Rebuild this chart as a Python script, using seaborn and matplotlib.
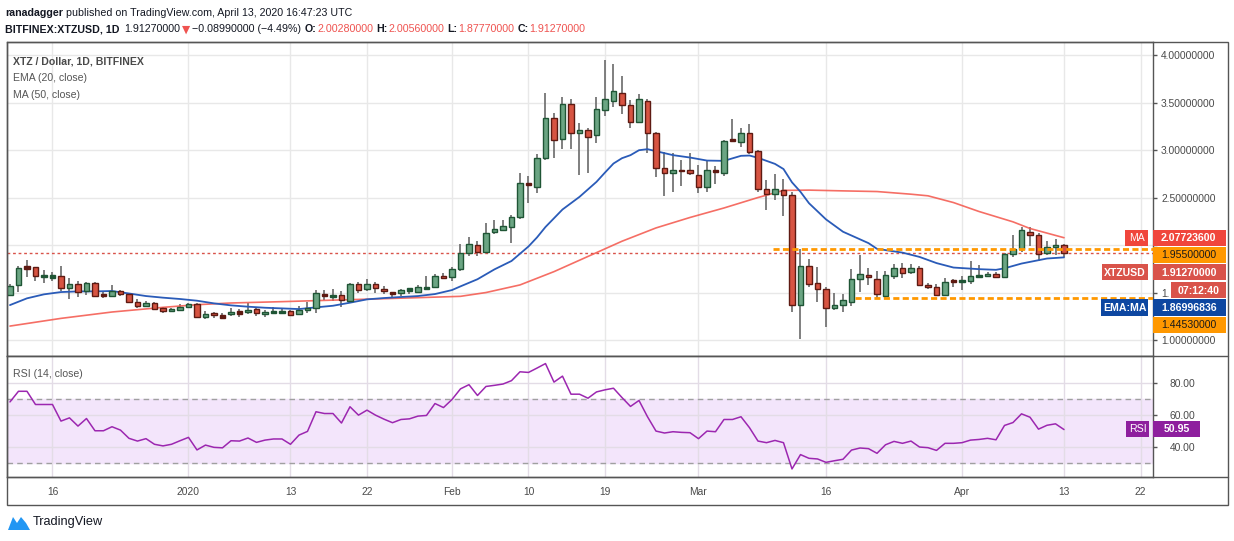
import numpy as np
import pandas as pd
import matplotlib
matplotlib.use("Agg")
import matplotlib.pyplot as plt
import matplotlib.dates as mdates
from matplotlib import font_manager
from matplotlib.patches import Rectangle, Polygon
from matplotlib.lines import Line2D
import seaborn as sns

# daily candles, Dec 11 2019 .. Apr 13 2020
dates = pd.date_range("2019-12-11", "2020-04-13", freq="D")

opens = [1.474, 1.579, 1.768, 1.765, 1.670, 1.669, 1.670, 1.544, 1.586, 1.512,
         1.596, 1.479, 1.467, 1.516, 1.481, 1.396, 1.361, 1.386, 1.333, 1.302,
         1.312, 1.344, 1.375, 1.239, 1.281, 1.251, 1.270, 1.293, 1.291, 1.323,
         1.270, 1.296, 1.296, 1.302, 1.270, 1.312, 1.333, 1.479, 1.461, 1.470,
         1.407, 1.586, 1.533, 1.586, 1.537, 1.497, 1.491, 1.523, 1.509, 1.549,
         1.554, 1.670, 1.660, 1.744, 1.919, 2.004, 1.926, 2.140, 2.158, 2.193,
         2.298, 2.645, 2.614, 2.911, 3.342, 3.118, 3.482, 3.184, 3.216, 3.153,
         3.426, 3.521, 3.605, 3.479, 3.300, 3.521, 3.184, 2.809, 2.753, 2.795,
         2.795, 2.742, 2.616, 2.782, 2.760, 3.110, 3.086, 3.184, 2.988, 2.595,
         2.539, 2.584, 2.525, 1.370, 1.784, 1.605, 1.542, 1.342, 1.374, 1.402,
         1.647, 1.689, 1.647, 1.465, 1.675, 1.763, 1.721, 1.763, 1.584, 1.563,
         1.479, 1.625, 1.621, 1.626, 1.673, 1.675, 1.700, 1.668, 1.910, 1.960,
         2.142, 2.110, 1.921, 1.984, 2.0028]
highs = [1.590, 1.779, 1.842, 1.772, 1.737, 1.719, 1.779, 1.649, 1.621, 1.614,
         1.611, 1.516, 1.579, 1.526, 1.488, 1.432, 1.407, 1.404, 1.344, 1.333,
         1.375, 1.393, 1.386, 1.302, 1.291, 1.281, 1.333, 1.323, 1.393, 1.351,
         1.319, 1.344, 1.330, 1.316, 1.358, 1.403, 1.526, 1.526, 1.537, 1.516,
         1.605, 1.614, 1.642, 1.614, 1.568, 1.509, 1.537, 1.551, 1.579, 1.674,
         1.695, 1.702, 1.765, 2.007, 2.088, 2.039, 2.228, 2.260, 2.263, 2.312,
         2.760, 2.726, 2.956, 3.600, 3.391, 3.560, 3.542, 3.286, 3.233, 3.563,
         3.946, 3.910, 3.777, 3.525, 3.588, 3.542, 3.190, 2.980, 2.970, 2.900,
         2.970, 2.846, 2.888, 2.828, 3.110, 3.330, 3.228, 3.270, 3.000, 2.682,
         2.746, 2.690, 2.553, 1.963, 1.851, 1.774, 1.560, 1.490, 1.482, 1.746,
         1.890, 1.763, 1.725, 1.725, 1.798, 1.816, 1.798, 1.781, 1.605, 1.588,
         1.658, 1.647, 1.675, 1.833, 1.788, 1.721, 1.718, 1.916, 2.104, 2.191,
         2.191, 2.125, 2.044, 2.068, 2.0056]
lows = [1.463, 1.509, 1.667, 1.625, 1.596, 1.621, 1.519, 1.435, 1.456, 1.477,
        1.453, 1.446, 1.456, 1.467, 1.386, 1.333, 1.351, 1.312, 1.284, 1.295,
        1.302, 1.337, 1.228, 1.225, 1.228, 1.228, 1.256, 1.246, 1.274, 1.256,
        1.246, 1.281, 1.281, 1.253, 1.260, 1.288, 1.288, 1.421, 1.411, 1.351,
        1.386, 1.491, 1.520, 1.491, 1.488, 1.449, 1.463, 1.481, 1.509, 1.544,
        1.544, 1.639, 1.625, 1.730, 1.884, 1.884, 1.919, 2.112, 2.150, 2.020,
        2.277, 2.446, 2.549, 2.900, 2.918, 3.012, 3.012, 2.742, 2.761, 3.075,
        3.358, 3.453, 3.374, 3.233, 3.290, 2.970, 2.718, 2.518, 2.560, 2.621,
        2.742, 2.546, 2.560, 2.642, 2.725, 3.089, 3.033, 2.963, 2.560, 2.367,
        2.472, 2.307, 1.296, 1.016, 1.553, 1.402, 1.142, 1.314, 1.290, 1.360,
        1.507, 1.577, 1.447, 1.444, 1.640, 1.650, 1.700, 1.574, 1.535, 1.472,
        1.465, 1.563, 1.528, 1.591, 1.661, 1.661, 1.661, 1.660, 1.879, 1.928,
        1.991, 1.830, 1.896, 1.900, 1.8777]
closes = [1.572, 1.754, 1.762, 1.670, 1.672, 1.672, 1.544, 1.586, 1.502, 1.596,
          1.467, 1.475, 1.512, 1.484, 1.400, 1.361, 1.386, 1.323, 1.305, 1.323,
          1.344, 1.375, 1.239, 1.277, 1.260, 1.247, 1.298, 1.289, 1.312, 1.281,
          1.291, 1.300, 1.300, 1.260, 1.316, 1.333, 1.491, 1.475, 1.465, 1.418,
          1.586, 1.523, 1.586, 1.544, 1.512, 1.493, 1.523, 1.537, 1.554, 1.553,
          1.670, 1.649, 1.744, 1.919, 2.014, 1.926, 2.130, 2.165, 2.204, 2.298,
          2.649, 2.638, 2.911, 3.332, 3.110, 3.482, 3.184, 3.216, 3.142, 3.437,
          3.532, 3.616, 3.479, 3.300, 3.542, 3.184, 2.809, 2.753, 2.795, 2.774,
          2.763, 2.616, 2.795, 2.776, 3.100, 3.104, 3.174, 2.980, 2.595, 2.539,
          2.595, 2.528, 1.370, 1.784, 1.595, 1.542, 1.342, 1.374, 1.419, 1.640,
          1.693, 1.668, 1.489, 1.689, 1.763, 1.707, 1.763, 1.581, 1.563, 1.479,
          1.616, 1.621, 1.625, 1.679, 1.677, 1.700, 1.668, 1.910, 1.960, 2.153,
          2.110, 1.910, 1.980, 2.005, 1.9127]

# EMA(20) and MA(50) read at sample days (day index from Dec 11)
ema_days = [0, 2, 4, 6, 8, 10, 12, 14, 16, 18, 20, 22, 24, 26, 28, 30, 32, 34,
            36, 38, 40, 42, 44, 46, 48, 50, 52, 53, 55, 57, 59, 61, 62, 63, 65,
            67, 69, 70, 71, 72, 73, 74, 75, 76, 78, 80, 82, 84, 86, 87, 88, 90,
            91, 92, 93, 94, 96, 98, 101, 102, 105, 107, 109, 111, 114, 116, 117,
            119, 122, 124]
ema_vals = [1.368, 1.439, 1.481, 1.505, 1.512, 1.512, 1.516, 1.490, 1.463, 1.446,
            1.432, 1.414, 1.386, 1.365, 1.351, 1.340, 1.333, 1.326, 1.344, 1.361,
            1.393, 1.428, 1.442, 1.453, 1.463, 1.484, 1.526, 1.565, 1.640, 1.744,
            1.832, 1.985, 2.080, 2.190, 2.374, 2.507, 2.665, 2.763, 2.858, 2.914,
            2.946, 2.998, 3.009, 2.988, 2.946, 2.921, 2.889, 2.886, 2.939, 2.942,
            2.918, 2.854, 2.800, 2.660, 2.560, 2.440, 2.270, 2.140, 2.020, 1.960,
            1.920, 1.875, 1.810, 1.763, 1.746, 1.739, 1.755, 1.805, 1.858, 1.870]
ma_days = [0, 6, 12, 18, 22, 26, 32, 38, 42, 48, 53, 56, 60, 64, 68, 72, 76, 80,
           84, 88, 91, 94, 98, 102, 106, 108, 111, 114, 118, 120, 124]
ma_vals = [1.147, 1.228, 1.295, 1.344, 1.372, 1.390, 1.404, 1.420, 1.430, 1.446,
           1.460, 1.500, 1.580, 1.720, 1.880, 2.040, 2.180, 2.290, 2.390, 2.500,
           2.575, 2.578, 2.570, 2.563, 2.535, 2.518, 2.447, 2.353, 2.244, 2.174,
           2.077]

rsi = [68.1, 74.7, 74.7, 66.5, 66.5, 66.5, 56.2, 58.2, 53.1, 57.8,
       50.2, 50.2, 52.7, 50.6, 45.5, 43.8, 45.3, 41.8, 40.8, 41.8,
       44.0, 46.1, 38.3, 41.3, 39.9, 39.6, 44.0, 43.8, 45.7, 43.0,
       44.4, 45.1, 45.1, 41.8, 47.5, 49.8, 62.0, 60.9, 60.9, 55.0,
       65.1, 59.9, 63.0, 59.9, 57.4, 55.2, 57.2, 57.6, 59.3, 59.7,
       67.1, 64.6, 69.6, 76.2, 78.8, 72.1, 77.7, 78.4, 79.2, 81.3,
       86.8, 86.4, 89.1, 91.9, 80.4, 84.1, 72.9, 72.9, 70.4, 74.3,
       75.6, 76.6, 70.8, 65.3, 69.0, 58.9, 50.0, 48.8, 49.6, 49.2,
       49.0, 45.3, 50.0, 49.6, 57.2, 57.2, 58.9, 52.1, 43.8, 42.8,
       44.2, 42.8, 26.5, 35.4, 33.1, 32.7, 30.6, 31.6, 32.5, 38.2,
       39.5, 39.1, 36.2, 41.5, 43.6, 42.4, 43.8, 40.1, 39.7, 38.0,
       42.4, 42.4, 42.8, 44.4, 44.8, 45.5, 44.6, 53.5, 55.3, 60.7,
       58.6, 51.2, 53.6, 54.5, 50.95]

tick_dates = ["2019-12-16", "2020-01-01", "2020-01-13", "2020-01-22", "2020-02-01",
              "2020-02-10", "2020-02-19", "2020-03-01", "2020-03-16", "2020-04-01",
              "2020-04-13", "2020-04-22"]
tick_labels = ["16", "2020", "13", "22", "Feb", "10", "19", "Mar", "16", "Apr", "13", "22"]

price_ticks = [1.0, 1.5, 2.0, 2.5, 3.0, 3.5, 4.0]
# 2.0 sits fully under the orange box, 1.5 shows only as "1." beside the clock box
price_tick_labels = ["1.00000000", "1.", "", "2.50000000", "3.00000000",
                     "3.50000000", "4.00000000"]

resistance = 1.955
support = 1.4453
last_price = 1.9127
ma_last = 2.077236
ema_last = 1.86996836
rsi_last = 50.95

# ---- style ----
sns.set_style("white")
avail = {f.name for f in font_manager.fontManager.ttflist}
if "Liberation Sans Narrow" in avail:
    FONT, FS = "Liberation Sans Narrow", 9.3
else:
    FONT, FS = "Liberation Sans", 7.6
plt.rcParams["font.family"] = [FONT, "DejaVu Sans"]

W, H = 1234, 541
fig = plt.figure(figsize=(W / 100, H / 100), dpi=100)
renderer = fig.canvas.get_renderer()


def fx(x):
    return x / W


def fy(y):
    return 1 - y / H


ax = fig.add_axes([fx(7), fy(356), fx(1153) - fx(7), fy(42) - fy(356)])
ax_rsi = fig.add_axes([fx(7), fy(477), fx(1153) - fx(7), fy(356) - fy(477)])

x = mdates.date2num(dates)
x0 = x[0]
xlim = (x0 - 0.35, x0 + 134.47)
ticks_x = mdates.date2num(pd.to_datetime(tick_dates))

GREEN, GREEN_EDGE = "#6ba583", "#1f5535"
RED, RED_EDGE = "#d75442", "#5e1a12"

# candles
o = np.array(opens)
c = np.array(closes)
up = c >= o
doji = np.abs(c - o) < 0.02
bottoms = np.where(doji, (o + c) / 2 - 0.0125, np.minimum(o, c))
heights = np.where(doji, 0.025, np.abs(c - o))
edges = np.where(up, GREEN_EDGE, RED_EDGE)
fills = np.where(doji, edges, np.where(up, GREEN, RED))

ax.vlines(x, lows, highs, color="#6a6a6a", lw=1.2, zorder=2)
sns.lineplot(x=x[ma_days], y=ma_vals, ax=ax, color="#f4554a", linewidth=1.2, alpha=0.85, zorder=2.5)
sns.lineplot(x=x[ema_days], y=ema_vals, ax=ax, color="#2a5bb8", linewidth=1.3, zorder=2.5)
ax.bar(x, heights, bottom=bottoms, width=0.7, color=fills, edgecolor=edges, linewidth=1, zorder=3)

ax.axhline(last_price, color="#d9534a", ls=(0, (2, 2)), lw=1, zorder=2)
ax.hlines(resistance, x0 + 89.8, xlim[1], colors="#ff9800", linestyles=(0, (2.2, 1.2)), lw=2, zorder=4)
ax.hlines(support, x0 + 99.4, xlim[1], colors="#ff9800", linestyles=(0, (2.2, 1.2)), lw=2, zorder=4)

ax.set_xlim(*xlim)
ax.set_ylim(0.832, 4.137)
ax.set_yticks(price_ticks)
ax.set_yticklabels(price_tick_labels)
ax.yaxis.tick_right()
ax.set_xticks(ticks_x)
ax.tick_params(axis="x", length=0, labelbottom=False)
ax.tick_params(axis="y", length=2.9, width=1, color="#555555", pad=2.9,
               labelsize=FS - 0.2, labelcolor="#4a4a4a")
ax.grid(True, color="#e8e8e8", lw=1)
ax.set_axisbelow(True)
ax.set_xlabel("")
ax.set_ylabel("")

# RSI pane
ax_rsi.axhspan(30, 70, color="#f3e5fb", zorder=0)
ax_rsi.axhline(70, color="#a0a0a0", ls=(0, (4, 3)), lw=1, zorder=1)
ax_rsi.axhline(30, color="#a0a0a0", ls=(0, (4, 3)), lw=1, zorder=1)
sns.lineplot(x=x, y=rsi, ax=ax_rsi, color="#9c27b0", linewidth=1.1, zorder=3)
ax_rsi.set_xlim(*xlim)
ax_rsi.set_ylim(21.5, 96.6)
ax_rsi.set_yticks([40, 60, 80])
ax_rsi.set_yticklabels(["40.00", "60.00", "80.00"])
ax_rsi.yaxis.tick_right()
ax_rsi.set_xticks(ticks_x)
ax_rsi.set_xticklabels(tick_labels)
ax_rsi.tick_params(axis="x", length=2.9, width=1, color="#555555", pad=4,
                   labelsize=FS - 0.2, labelcolor="#4a4a4a")
ax_rsi.tick_params(axis="y", length=2.9, width=1, color="#555555", pad=9,
                   labelsize=FS - 0.2, labelcolor="#4a4a4a")
ax_rsi.grid(True, color="#e3dce6", lw=1, zorder=0.5)
ax_rsi.set_axisbelow(True)
ax_rsi.set_xlabel("")
ax_rsi.set_ylabel("")

for a in (ax, ax_rsi):
    for s in a.spines.values():
        s.set_color("#555555")
        s.set_linewidth(1)

# outer frame and pane separators
fig.add_artist(Rectangle((fx(7), fy(505)), fx(1228) - fx(7), fy(42) - fy(505),
                         transform=fig.transFigure, fill=False, edgecolor="#555555", lw=1, zorder=1))
for yy in (356, 477):
    fig.add_artist(Line2D([fx(7), fx(1228)], [fy(yy), fy(yy)], transform=fig.transFigure,
                          color="#555555", lw=1, zorder=1))


def ftext(xp, yp, s, **kw):
    kw.setdefault("va", "center")
    kw.setdefault("fontsize", FS)
    return fig.text(fx(xp), fy(yp), s, **kw)


def text_run(xp, yp, pieces, size):
    # lay pieces out left to right, each after the previous one's right edge
    for s, col, wt, gap in pieces:
        kw = {}
        if s == "\u25bc":
            kw["family"] = ["DejaVu Sans"]
        t = ftext(xp, yp, s, color=col, fontweight=wt, fontsize=size, **kw)
        xp = t.get_window_extent(renderer).x1 + gap


def box(x1, y1, x2, y2, color):
    fig.add_artist(Rectangle((fx(x1), fy(y2)), fx(x2) - fx(x1), fy(y1) - fy(y2),
                             transform=fig.transFigure, facecolor=color,
                             edgecolor="none", zorder=5))


# right-side price labels
box(1125, 230, 1148, 246, "#f0463c")
box(1153, 230, 1226, 246, "#f0463c")
ftext(1136.5, 238.5, "MA", ha="center", color="white", zorder=6)
ftext(1161, 238.5, f"{ma_last:.8f}", color="white", fontweight="bold", zorder=6)

box(1153, 247, 1226, 263, "#ff9800")
ftext(1161, 255.5, f"{resistance:.8f}", color="#1a1a1a", zorder=6)

box(1102, 264, 1148, 280, "#d9534a")
box(1153, 264, 1226, 280, "#d9534a")
ftext(1125, 272.5, "XTZUSD", ha="center", color="white", fontweight="bold", zorder=6)
ftext(1161, 272.5, f"{last_price:.8f}", color="white", fontweight="bold", zorder=6)

box(1171, 282, 1226, 298, "#d9534a")
ftext(1198.5, 290.5, "07:12:40", ha="center", color="white", fontweight="bold", zorder=6)

box(1101, 299, 1148, 316, "#0d47a1")
box(1153, 299, 1226, 316, "#0d47a1")
ftext(1124.5, 308, "EMA:MA", ha="center", color="white", fontweight="bold", zorder=6)
ftext(1161, 308, f"{ema_last:.8f}", color="white", fontweight="bold", zorder=6)

box(1153, 317, 1226, 333, "#ff9800")
ftext(1161, 325.5, f"{support:.8f}", color="#1a1a1a", zorder=6)

box(1126, 421, 1149, 437, "#8e1f9e")
box(1153, 421, 1200, 437, "#8e1f9e")
ftext(1137.5, 429.5, "RSI", ha="center", color="white", zorder=6)
ftext(1176.5, 429.5, f"{rsi_last:.2f}", ha="center", color="white", fontweight="bold", zorder=6)

# pane legends
ftext(13, 61, "XTZ / Dollar, 1D, BITFINEX", color="#4a4a4a", fontweight="bold")
ftext(13, 78, "EMA (20, close)", color="#555555")
ftext(13, 95, "MA (50, close)", color="#555555")
ftext(13, 374, "RSI (14, close)", color="#555555")

# header
HS = (FS + 0.8) * 0.91
INK = "#131722"
LOSS = "#ef5350"
text_run(5, 13, [("ranadagger", INK, "bold", 3),
                 ("published on TradingView.com, April 13, 2020 16:47:23 UTC", INK, "normal", 0)], HS)
text_run(5, 29.5, [("BITFINEX:XTZUSD, 1D", INK, "bold", 5),
                   ("1.91270000", INK, "normal", 1),
                   ("\u25bc", LOSS, "normal", 2),
                   ("\u22120.08990000 (\u22124.49%)", INK, "normal", 4),
                   ("O:", INK, "bold", 1), ("2.00280000", LOSS, "normal", 3),
                   ("H:", INK, "bold", 1), ("2.00560000", LOSS, "normal", 3),
                   ("L:", INK, "bold", 1), ("1.87770000", LOSS, "normal", 3),
                   ("C:", INK, "bold", 1), ("1.91270000", LOSS, "normal", 0)], HS)

# footer logo
logo = [(8, 530), (13, 517), (17, 523), (21, 517), (26, 523), (30, 530)]
fig.add_artist(Polygon([(fx(a), fy(b)) for a, b in logo], closed=True,
                       transform=fig.transFigure, facecolor="#2196f3", edgecolor="none"))
ftext(33, 522, "TradingView", color=INK, fontsize=FS + 1.6)

fig.savefig("out.png", dpi=100)
